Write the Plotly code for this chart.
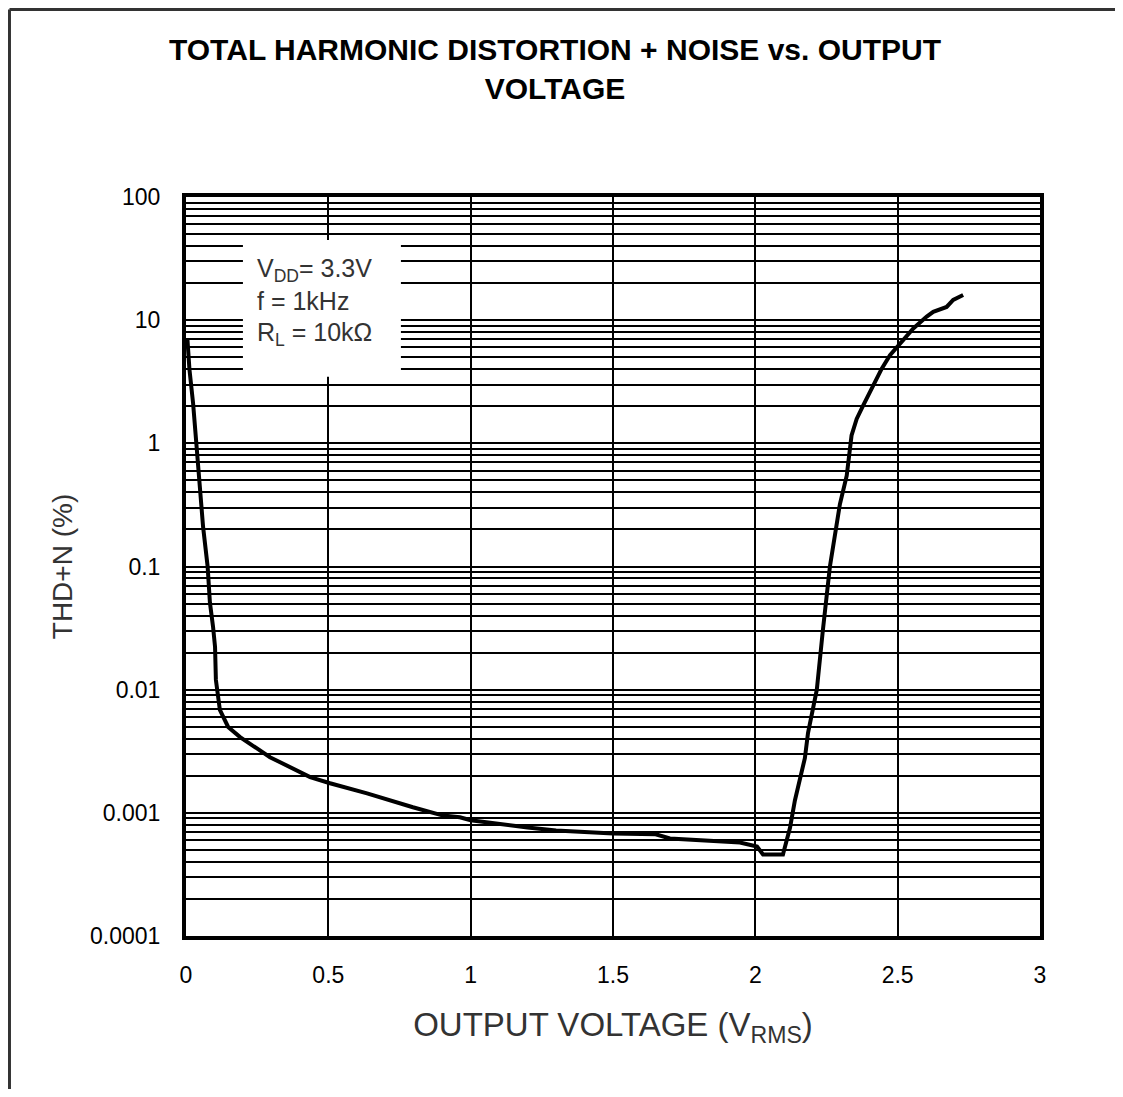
import plotly.graph_objects as go

# ---- data ----
voltage = [0.005, 0.012, 0.025, 0.049, 0.060, 0.076, 0.084, 0.095, 0.102, 0.105,
           0.119, 0.148, 0.19, 0.295, 0.436, 0.506, 0.636, 0.797, 0.903, 0.962,
           1.0, 1.2, 1.3, 1.5, 1.65, 1.7, 1.8, 1.9, 1.946, 2.006, 2.027, 2.097,
           2.104, 2.122, 2.139, 2.157, 2.174, 2.185, 2.199, 2.209, 2.216, 2.237,
           2.262, 2.297, 2.321, 2.338, 2.356, 2.379, 2.414, 2.444, 2.473, 2.508,
           2.555, 2.602, 2.625, 2.672, 2.695, 2.730]
thdn = [7.0, 4.0, 2.1, 0.37, 0.21, 0.10, 0.051, 0.0325, 0.0223, 0.012,
        0.00684, 0.00498, 0.00412, 0.00283, 0.00195, 0.00174, 0.00144, 0.00111, 0.00095, 0.00092,
        0.00087, 0.00076, 0.00072, 0.00068, 0.00067, 0.00062, 0.00060, 0.00058, 0.000575, 0.000533, 0.000459, 0.000459,
        0.000524, 0.00076, 0.00126, 0.00184, 0.00278, 0.00445, 0.00647, 0.00826, 0.010, 0.030,
        0.10, 0.32, 0.546, 1.16, 1.58, 2.03, 2.95, 4.04, 5.19, 6.46,
        8.56, 10.7, 11.7, 12.8, 14.6, 16.0]

x_ticks = [0, 0.5, 1, 1.5, 2, 2.5, 3]
x_tick_labels = ["0", "0.5", "1", "1.5", "2", "2.5", "3"]
decades = [0.0001, 0.001, 0.01, 0.1, 1, 10, 100]
decade_labels = ["0.0001", "0.001", "0.01", "0.1", "1", "10", "100"]
cond_lines = ["V<sub>DD</sub>= 3.3V", "f = 1kHz", "R<sub>L</sub> = 10kΩ"]

# y grid: every 1..9 multiple in each decade
y_tickvals, y_ticktext = [], []
for i, d in enumerate(decades):
    if i == len(decades) - 1:
        y_tickvals.append(d); y_ticktext.append(decade_labels[i]); break
    for m in range(1, 10):
        y_tickvals.append(d * m)
        y_ticktext.append(decade_labels[i] if m == 1 else "")

FONT = "Liberation Sans, Arial, Helvetica, sans-serif"

fig = go.Figure()
fig.add_trace(go.Scatter(x=voltage, y=thdn, mode="lines",
                         line=dict(color="black", width=4), showlegend=False))

# white box behind conditions text
fig.add_shape(type="rect", xref="x", yref="y", x0=0.2, x1=0.755, y0=3.47, y1=44.7,
              fillcolor="white", line=dict(width=0), layer="between")
cond_y = [1.41, 1.152, 0.885]
for t, yy in zip(cond_lines, cond_y):
    fig.add_annotation(x=0.242, y=yy, xref="x", yref="y", text=t, showarrow=False,
                       xanchor="left", yanchor="middle",
                       font=dict(family=FONT, size=25, color="#333"))

# outer border (top and left)
fig.add_shape(type="line", xref="paper", yref="paper", x0=-0.2067, x1=1.09, y0=1.2537, y1=1.2537,
              line=dict(color="#333", width=3))
fig.add_shape(type="line", xref="paper", yref="paper", x0=-0.2067, x1=-0.2067, y0=1.2537, y1=-0.21,
              line=dict(color="#333", width=3))

fig.add_annotation(x=0.432, y=1.1732, xref="paper", yref="paper", showarrow=False,
                   text="TOTAL HARMONIC DISTORTION + NOISE vs. OUTPUT<br>VOLTAGE",
                   font=dict(family=FONT, size=30, color="black", weight="bold"),
                   xanchor="center", yanchor="middle")

fig.update_layout(
    width=1107, height=1081,
    margin=dict(l=178, r=75, t=189, b=153),
    paper_bgcolor="white", plot_bgcolor="white",
    xaxis=dict(range=[0, 3], tickvals=x_ticks, ticktext=x_tick_labels,
               showgrid=True, gridcolor="black", gridwidth=1.5,
               showline=True, linecolor="black", linewidth=4, mirror=True,
               ticks="", zeroline=False, automargin=False, ticklabelstandoff=15,
               tickfont=dict(family=FONT, size=23, color="black"),
               title=dict(text="OUTPUT VOLTAGE (V<sub>RMS</sub>)",
                          font=dict(family=FONT, size=33, color="#333"), standoff=27)),
    yaxis=dict(type="log", range=[-4, 2], tickvals=y_tickvals, ticktext=y_ticktext,
               showgrid=True, gridcolor="black", gridwidth=1.5,
               showline=True, linecolor="black", linewidth=4, mirror=True,
               ticks="", zeroline=False, automargin=False, ticklabelstandoff=17,
               tickfont=dict(family=FONT, size=23, color="black"),
               title=dict(text="THD+N (%)", font=dict(family=FONT, size=28, color="#333"),
                          standoff=10)),
)

fig.write_html("out.html")
